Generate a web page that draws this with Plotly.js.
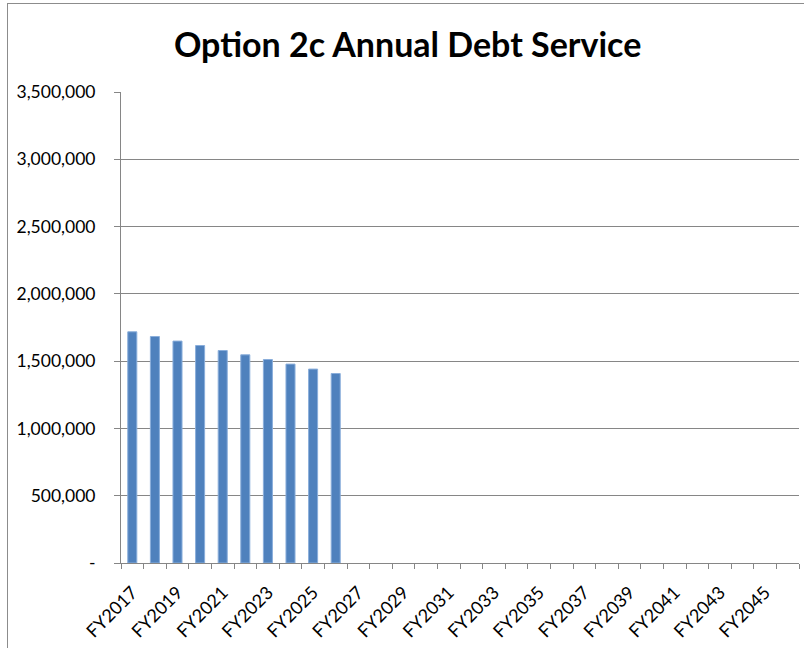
<!DOCTYPE html>
<html>
<head>
<meta charset="utf-8">
<script src="https://cdn.plot.ly/plotly-3.0.1.min.js"></script>
<style>
  html, body { margin: 0; padding: 0; background: #ffffff; overflow: hidden; }
  #chart { position: absolute; left: 0; top: 0; width: 804px; height: 648px; }
  #frame { position: absolute; left: 7px; top: 3px; width: 900px; height: 800px;
           border: 1px solid #8c8c8c; pointer-events: none; box-sizing: border-box; }
</style>
</head>
<body>
<div id="chart"></div>
<div id="frame"></div>
<script>
// Fiscal years FY2017 .. FY2046
const categories = [
  "FY2017","FY2018","FY2019","FY2020","FY2021","FY2022","FY2023","FY2024","FY2025","FY2026",
  "FY2027","FY2028","FY2029","FY2030","FY2031","FY2032","FY2033","FY2034","FY2035","FY2036",
  "FY2037","FY2038","FY2039","FY2040","FY2041","FY2042","FY2043","FY2044","FY2045","FY2046"
];
// Annual debt service (later years are blank)
const debtService = [
  1718000, 1683000, 1649000, 1616000, 1579000, 1547000, 1512000, 1478000, 1441000, 1408000,
  null, null, null, null, null, null, null, null, null, null,
  null, null, null, null, null, null, null, null, null, null
];
// Every other category is labelled on the axis
const xTickLabels = categories.map((c, i) => (i % 2 === 0 ? c : ""));
const yTickValues = [0, 500000, 1000000, 1500000, 2000000, 2500000, 3000000, 3500000];
const yTickLabels = ["-", "500,000", "1,000,000", "1,500,000", "2,000,000", "2,500,000", "3,000,000", "3,500,000"];

const trace = {
  type: "bar",
  x: categories,
  y: debtService,
  marker: { color: "#4f81bd", line: { color: "#8aaedb", width: 1 } },
  hoverinfo: "x+y"
};

const layout = {
  width: 804,
  height: 648,
  margin: { l: 121, r: 5, t: 92, b: 85 },
  paper_bgcolor: "#ffffff",
  plot_bgcolor: "#ffffff",
  font: { family: "Lato, 'Open Sans', sans-serif", color: "#000000" },
  title: {
    text: "<b>Option 2c Annual Debt Service</b>",
    font: { family: "Lato, sans-serif", size: 34, color: "#000000" },
    x: 0.507, xanchor: "center",
    y: 0.93, yanchor: "middle"
  },
  bargap: 0.6,
  showlegend: false,
  xaxis: {
    type: "category",
    tickmode: "array",
    tickvals: categories,
    ticktext: xTickLabels,
    tickson: "boundaries",
    ticks: "outside",
    ticklen: 5,
    tickcolor: "#868686",
    tickangle: -45,
    tickfont: { size: 18, color: "#000000" },
    ticklabelstandoff: 11,
    showline: true,
    linecolor: "#868686",
    linewidth: 1,
    showgrid: false,
    zeroline: false,
    range: [-0.5, 29.5]
  },
  yaxis: {
    range: [0, 3500000],
    tickmode: "array",
    tickvals: yTickValues,
    ticktext: yTickLabels,
    ticks: "outside",
    ticklen: 6,
    tickcolor: "#868686",
    tickfont: { size: 17.5, color: "#000000" },
    ticklabelstandoff: 15,
    showline: true,
    linecolor: "#868686",
    linewidth: 1,
    showgrid: true,
    gridcolor: "#868686",
    gridwidth: 1,
    zeroline: false
  }
};

Plotly.newPlot("chart", [trace], layout, { displayModeBar: false, staticPlot: true });
</script>
</body>
</html>
